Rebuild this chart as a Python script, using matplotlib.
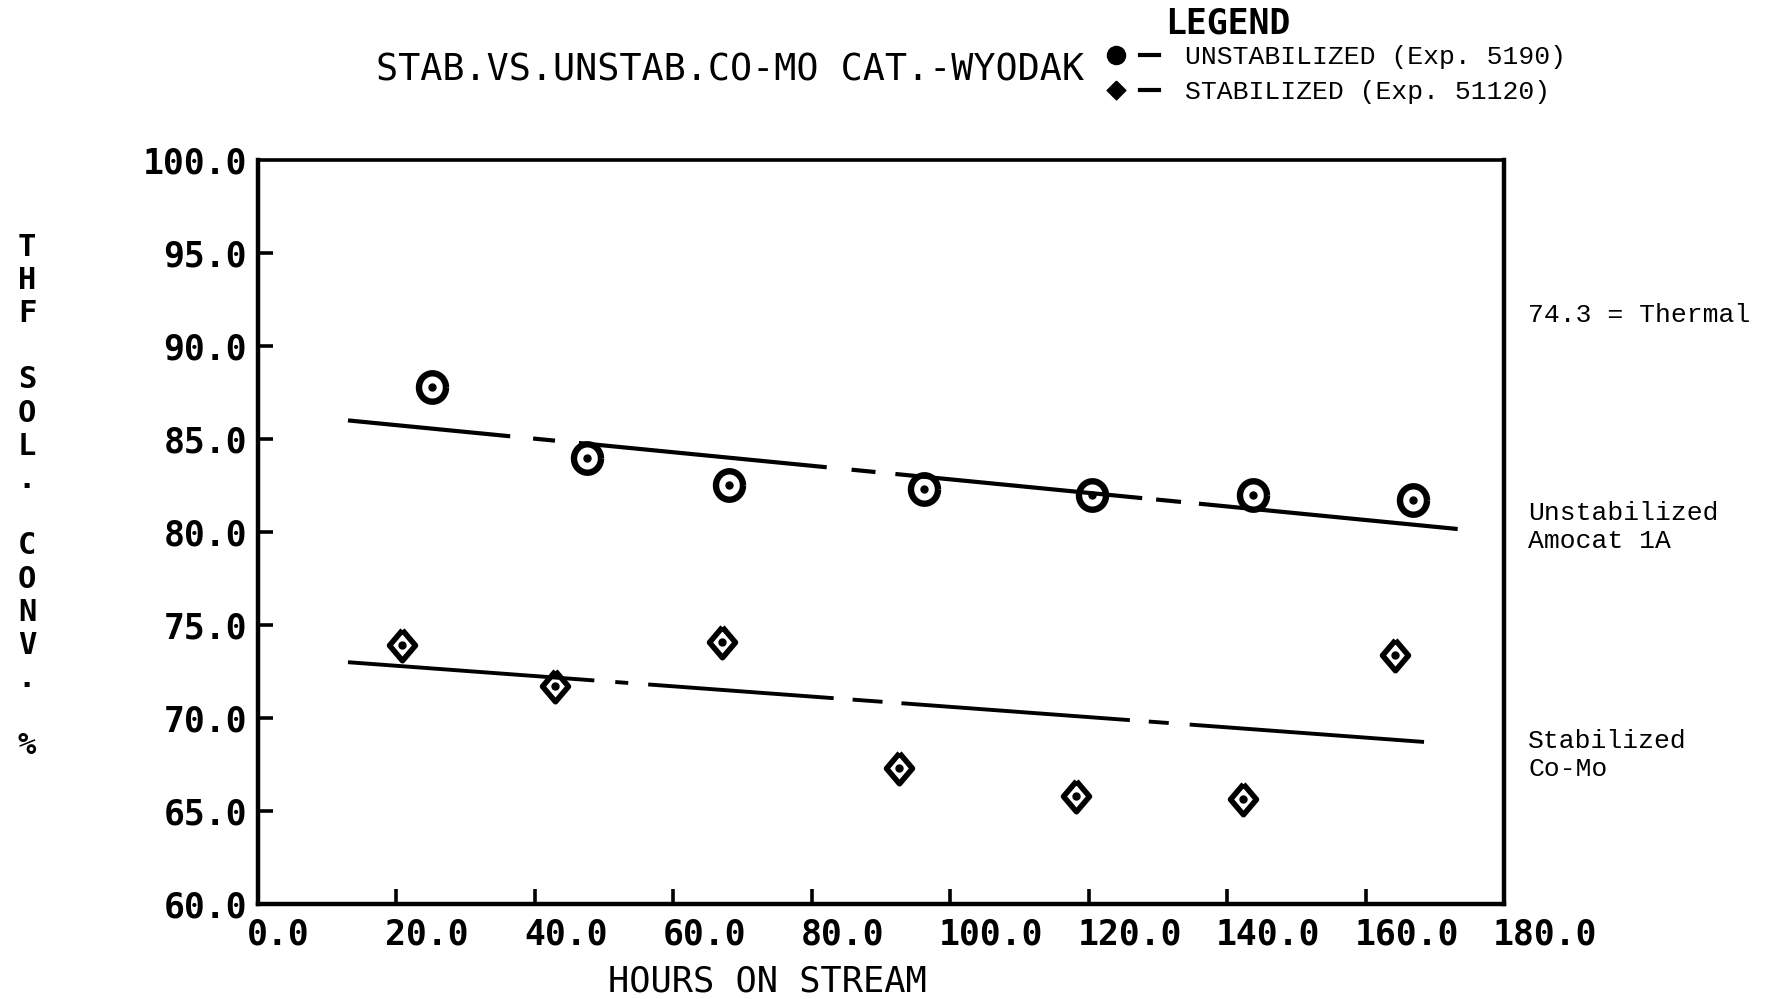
import numpy as np
import matplotlib
matplotlib.use("Agg")
import matplotlib.pyplot as plt
from matplotlib.lines import Line2D
from matplotlib.legend_handler import HandlerTuple
import matplotlib.transforms as mtransforms

plt.rcParams["lines.scale_dashes"] = False

# ---------------- data ----------------
unstab_hours = [25.2, 47.5, 68.0, 96.2, 120.5, 143.8, 166.9]
unstab_conv = [87.8, 84.0, 82.5, 82.3, 82.0, 82.0, 81.7]
stab_hours = [20.8, 42.9, 67.0, 92.6, 118.2, 142.3, 164.3]
stab_conv = [73.9, 71.7, 74.1, 67.3, 65.8, 65.65, 73.4]

unstab_fit_x = [13.0, 173.6]
unstab_fit_y = [86.0, 80.15]
stab_fit_x = [13.0, 168.9]
stab_fit_y = [73.0, 68.7]

x_ticks = [0, 20, 40, 60, 80, 100, 120, 140, 160, 180]
y_ticks = [60, 65, 70, 75, 80, 85, 90, 95, 100]
x_ticklabels = ["0.0", "20.0", "40.0", "60.0", "80.0", "100.0", "120.0", "140.0", "160.0", "180.0"]
y_ticklabels = ["60.0", "65.0", "70.0", "75.0", "80.0", "85.0", "90.0", "95.0", "100.0"]

title = "STAB.VS.UNSTAB.CO-MO CAT.-WYODAK"
xlabel = "HOURS ON STREAM"
ylabel = "THF SOL. CONV. %"
legend_title = "LEGEND"
legend_labels = ["UNSTABILIZED (Exp. 5190)", "STABILIZED (Exp. 51120)"]
side_notes = [("74.3 = Thermal", 315), ("Unstabilized\nAmocat 1A", 527), ("Stabilized\nCo-Mo", 755)]

# ---------------- styles ----------------
PX = 0.72  # points per pixel at 100 dpi
upper_dash = [v * PX for v in (163, 23, 22, 24, 249, 25, 24, 20, 248, 14, 25, 18, 260, 400)]
lower_dash = [v * PX for v in (247, 21, 13, 20, 186, 19, 30, 19, 229, 19, 20, 21, 235, 400)]

# ---------------- figure ----------------
W, H = 1777, 999
fig = plt.figure(figsize=(W / 100, H / 100), dpi=100)
fig.patch.set_facecolor("white")
ax = fig.add_axes([258 / W, 1 - 904 / H, (1504 - 258) / W, (904 - 160) / H])

mono = "DejaVu Sans Mono"
courier = "Liberation Mono"

# markers
t = np.linspace(0, 2 * np.pi, 41)
ellipse = np.column_stack([0.95 * np.cos(t), np.sin(t)])
diamond = [(0, 1), (0.85, 0), (0, -1), (-0.85, 0), (0, 1)]
diamond_sq = [(0, 1), (1, 0), (0, -1), (-1, 0), (0, 1)]

ax.plot(unstab_hours, unstab_conv, linestyle="none", marker=ellipse, markersize=20.5,
        markerfacecolor="none", markeredgecolor="black", markeredgewidth=4.6, zorder=3)
ax.plot(unstab_hours, unstab_conv, linestyle="none", marker="o", markersize=5,
        color="black", zorder=4)
ax.plot(stab_hours, stab_conv, linestyle="none", marker=diamond, markersize=22,
        markerfacecolor="none", markeredgecolor="black", markeredgewidth=4.0, zorder=3)
ax.plot(stab_hours, stab_conv, linestyle="none", marker="o", markersize=5,
        color="black", zorder=4)

# trend lines
ax.plot(unstab_fit_x, unstab_fit_y, color="black", lw=3.0,
        linestyle=(0, upper_dash), solid_capstyle="butt", dash_capstyle="butt")
ax.plot(stab_fit_x, stab_fit_y, color="black", lw=2.8,
        linestyle=(0, lower_dash), solid_capstyle="butt", dash_capstyle="butt")

ax.set_xlim(0, 180)
ax.set_ylim(60, 100)

for s in ["left", "bottom", "right"]:
    ax.spines[s].set_linewidth(3.2)
ax.spines["top"].set_linewidth(2.6)

ax.set_xticks(x_ticks)
ax.set_yticks(y_ticks)
ax.set_xticklabels(x_ticklabels, fontfamily=mono, fontweight="bold", fontsize=25)
ax.set_yticklabels(y_ticklabels, fontfamily=mono, fontweight="bold", fontsize=25)
ax.tick_params(axis="both", direction="in", length=11, width=2.6, top=False, right=False)
ax.tick_params(axis="y", pad=8)
ax.tick_params(axis="x", pad=10)
offset = mtransforms.ScaledTranslation(-11 / 100, 0, fig.dpi_scale_trans)
for lbl in ax.get_xticklabels():
    lbl.set_horizontalalignment("left")
    lbl.set_transform(lbl.get_transform() + offset)
# first and last ticks are at the spines; hide those tick marks
ax.xaxis.get_major_ticks()[0].tick1line.set_visible(False)
ax.xaxis.get_major_ticks()[-1].tick1line.set_visible(False)
ax.yaxis.get_major_ticks()[0].tick1line.set_visible(False)
ax.yaxis.get_major_ticks()[-1].tick1line.set_visible(False)

# title
fig.text(730 / W, 1 - 70 / H, title, fontfamily=mono, fontsize=26.5,
         ha="center", va="center")

# x label
fig.text(767 / W, 1 - 982 / H, xlabel, fontfamily=mono, fontsize=25.5,
         ha="center", va="center")

# stacked y label
y0, dy = 247, 33.2
for i, ch in enumerate(ylabel):
    if ch != " ":
        fig.text(27 / W, 1 - (y0 + dy * i) / H, ch, fontfamily=mono, fontweight="bold",
                 fontsize=22, ha="center", va="center")

# legend
fig.text(1228 / W, 1 - 23 / H, legend_title, fontfamily=mono, fontweight="bold",
         fontsize=25, ha="center", va="center")
h1 = (Line2D([], [], linestyle="none", marker="o", markersize=13, color="black"),
      Line2D([], [], color="black", lw=3))
h2 = (Line2D([], [], linestyle="none", marker=diamond_sq, markersize=13.5, color="black"),
      Line2D([], [], color="black", lw=3))
fig.legend([h1, h2], legend_labels, handler_map={tuple: HandlerTuple(ndivide=None, pad=0.55)},
           loc="upper left", bbox_to_anchor=(1106 / W, 1 - 45 / H), frameon=False,
           prop={"family": courier, "size": 19}, handlelength=2.0, handletextpad=1.0,
           labelspacing=0.42, borderpad=0, borderaxespad=0)

# side notes
for txt, yy in side_notes:
    fig.text(1528 / W, 1 - yy / H, txt, fontfamily=courier, fontsize=19,
             ha="left", va="center", linespacing=1.25)

fig.savefig("out.png", dpi=100, facecolor="white")
